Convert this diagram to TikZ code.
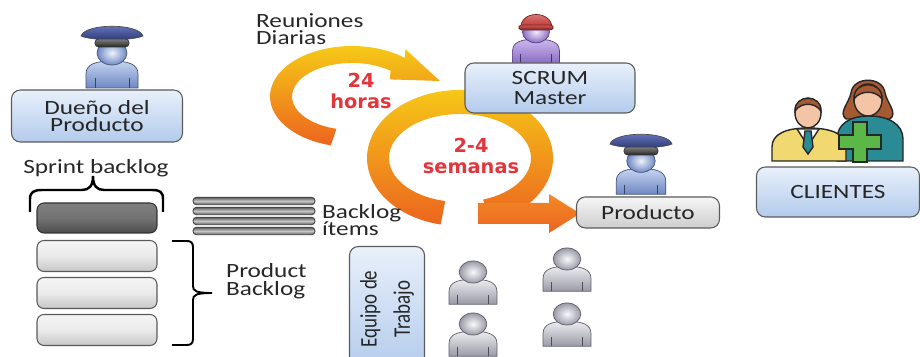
\documentclass[tikz,border=0pt]{standalone}
\usepackage{fontspec}
\setmainfont{Carlito}
\newfontfamily\ancha[FakeStretch=1.25]{Carlito}
\newfontfamily\estrecha[FakeStretch=0.8]{Carlito}
\newfontfamily\gruesa{DejaVu Sans}

\definecolor{cajaArriba}{HTML}{E8F0FB}
\definecolor{cajaAbajo}{HTML}{B3CBEC}
\definecolor{borde}{HTML}{5B5B5B}
\definecolor{grisArriba}{HTML}{F6F6F6}
\definecolor{grisAbajo}{HTML}{CDCDCD}
\definecolor{amarillo}{HTML}{F6CC17}
\definecolor{naranjaMedio}{HTML}{F28A26}
\definecolor{naranja}{HTML}{EC641E}
\definecolor{rojo}{HTML}{E2363C}
\definecolor{azulPersona}{HTML}{C6D4F0}
\definecolor{azulPersonaOsc}{HTML}{6F88C4}
\definecolor{lilaPersona}{HTML}{CDB8EE}
\definecolor{lilaPersonaOsc}{HTML}{8A6CC4}
\definecolor{grisPersona}{HTML}{EDEDF0}
\definecolor{grisPersonaOsc}{HTML}{9A9AA8}
\definecolor{gorraArriba}{HTML}{6E7EC6}
\definecolor{gorraAbajo}{HTML}{2B3775}
\definecolor{rojoGorro}{HTML}{C0302E}
\definecolor{piel}{HTML}{F3C4A6}
\definecolor{pelo}{HTML}{A65A32}
\definecolor{camisa}{HTML}{F1D870}
\definecolor{verdeAzul}{HTML}{2A8B95}
\definecolor{verdeMas}{HTML}{5BB848}

% muñeco: #1 centro de la cabeza, #2 escala, #3 color claro, #4 color oscuro
\newcommand\persona[4]{%
  \begin{scope}[shift={(#1)}, scale=#2]
    \shade[draw=#4!60!black, line width=0.4pt, top color=#3, bottom color=#4]
      (-26,35) -- (-26,21) .. controls (-26,11) and (-16,8) .. (0,8)
      .. controls (16,8) and (26,11) .. (26,21) -- (26,35) -- cycle;
    \draw[#4!50!black, line width=0.5pt] (-17,25) -- (-17,35) (17,25) -- (17,35);
    \shade[draw=#4!60!black, line width=0.4pt, inner color=#3!30!white, outer color=#4]
      (0,0) ellipse [x radius=15, y radius=12];
  \end{scope}}

% gorra de policia sobre la cabeza en #1
\newcommand\gorra[1]{%
  \begin{scope}[shift={(#1)}]
    \shade[draw=black!70, line width=0.4pt, top color=gorraArriba, bottom color=gorraAbajo]
      (-31,-17) .. controls (-27,-30) and (27,-30) .. (31,-17)
      .. controls (20,-12) and (-20,-12) .. cycle;
    \shade[draw=black!80, line width=0.4pt, rounded corners=2pt, top color=black!50, bottom color=black!85]
      (-17,-14) rectangle (17,-6);
  \end{scope}}

% gorro rojo del scrum master
\newcommand\gorro[1]{%
  \begin{scope}[shift={(#1)}]
    \shade[draw=rojoGorro!60!black, line width=0.4pt, top color=rojoGorro!55!white, bottom color=rojoGorro]
      (-15,-4) .. controls (-16,-22) and (16,-22) .. (16,-4) -- cycle;
    \shade[draw=rojoGorro!60!black, line width=0.4pt, rounded corners=1.5pt, top color=rojoGorro!80!white, bottom color=rojoGorro!70!black]
      (-17,-7) rectangle (17,-2);
  \end{scope}}

\tikzset{
  caja/.style={draw=borde, line width=0.6pt, rounded corners=5pt,
    top color=cajaArriba, bottom color=cajaAbajo, align=center,
    text=black!85, font=\ancha\fontsize{11.5}{10}\selectfont},
  cajagris/.style={caja, top color=grisArriba, bottom color=grisAbajo},
  tarea/.style={draw=black!65, line width=0.6pt, rounded corners=4pt,
    minimum width=2.4cm, minimum height=0.62cm,
    top color=black!4, bottom color=black!22, middle color=black!8},
  tareaoscura/.style={tarea, draw=black!80, minimum height=0.6cm,
    top color=black!50, bottom color=black!70, middle color=black!55},
  barra/.style={draw=black!75, line width=0.5pt, rounded corners=2pt, inner sep=0pt,
    minimum width=2.44cm, minimum height=0.15cm,
    top color=black!65, bottom color=black!65, middle color=black!22},
  etiqueta/.style={align=left, text=black!85, font=\ancha\fontsize{11.5}{10}\selectfont},
  etiquetaroja/.style={align=center, text=rojo, font=\gruesa\bfseries\fontsize{11}{12}\selectfont},
}

\begin{document}
\begin{tikzpicture}[x=0.02cm, y=-0.02cm]
  \useasboundingbox (0,0) rectangle (920,357);
  \clip (0,0) rectangle (920,357);

  % ciclo diario
  \shade[top color=amarillo, bottom color=naranja]
    (330.8,145.3) arc[start angle=105, end angle=310, x radius=82, y radius=50.5]
    -- (405.4,49.2) -- (440,81) -- (389.8,79.4) -- (390.6,70.8)
    arc[start angle=310, end angle=105, x radius=60, y radius=33.5] -- cycle;
  % ciclo del sprint
  \shade[top color=amarillo, bottom color=naranja]
    (440.7,224.5) arc[start angle=102, end angle=431, x radius=93, y radius=68]
    -- (483.1,199.6) arc[start angle=431, end angle=102, x radius=71, y radius=44] -- cycle;
  \shade[top color=naranjaMedio, bottom color=naranja]
    (478,203) -- (549,203) -- (549,194) -- (580,213.5) -- (549,233) -- (549,224) -- (478,224) -- cycle;

  \node[etiquetaroja] (horas) at (361,91) {24\\horas};
  \node[etiquetaroja] (semanas) at (471,156) {2-4\\semanas};

  % roles
  \persona{112,53}{1}{azulPersona}{azulPersonaOsc}
  \gorra{112,53}
  \persona{536,32}{0.9}{lilaPersona}{lilaPersonaOsc}
  \gorro{536,32}
  \persona{641,161}{0.95}{azulPersona}{azulPersonaOsc}
  \gorra{641,161}
  \foreach \p in {{473,272},{473,324},{567,259},{567,314}}
    \persona{\p}{0.92}{grisPersona}{grisPersonaOsc};

  \node[caja, minimum width=3.42cm, minimum height=1.04cm] (duenio) at (97,116) {Dueño del\\Producto};
  \node[caja, minimum width=3.4cm, minimum height=1cm,
    font=\ancha\fontsize{11.5}{11.3}\selectfont] (master) at (550,88) {SCRUM\\Master};
  \node[cajagris, minimum width=2.86cm, minimum height=0.62cm] (producto) at (648,212.5) {Producto};
  \node[caja, minimum width=3.26cm, minimum height=1cm] (clientes) at (838,192) {CLIENTES};
  \node[caja, rotate=90, minimum width=2.5cm, minimum height=1.5cm,
    font=\estrecha\fontsize{13.5}{19}\selectfont] (equipo) at (387,309) {Equipo de\\Trabajo};

  % clientes
  \begin{scope}[line width=0.8pt, draw=black!85]
    \filldraw[fill=pelo] (846,119) .. controls (838,113) and (849,103) .. (851,93)
      .. controls (853,76) and (883,76) .. (885,93) .. controls (887,103) and (898,113) .. (890,119) -- cycle;
    \filldraw[fill=verdeAzul] (837,161) -- (837,139) .. controls (837,124) and (850,116) .. (869,116)
      .. controls (888,116) and (903,124) .. (903,139) -- (903,161) -- cycle;
    \filldraw[fill=piel] (868,100) ellipse [x radius=14, y radius=16];
    \filldraw[fill=pelo] (854,99) .. controls (853,80) and (883,80) .. (882,99)
      .. controls (876,90) and (860,90) .. cycle;
    \filldraw[fill=camisa] (772,161) -- (772,147) .. controls (772,134) and (786,128) .. (808,128)
      .. controls (831,128) and (846,134) .. (846,147) -- (846,161) -- cycle;
    \filldraw[fill=white] (797,129) -- (808,146) -- (819,129) -- cycle;
    \filldraw[fill=verdeAzul] (805,131) -- (811,131) -- (813,147) -- (808,154) -- (803,147) -- cycle;
    \filldraw[fill=piel] (808,113) ellipse [x radius=13, y radius=15];
    \filldraw[fill=pelo] (795,111) .. controls (794,94) and (822,94) .. (821,111)
      .. controls (815,102) and (801,102) .. cycle;
    \filldraw[fill=verdeMas] (853,122) -- (867,122) -- (867,135) -- (881,135) -- (881,149)
      -- (867,149) -- (867,162) -- (853,162) -- (853,149) -- (839,149) -- (839,135) -- (853,135) -- cycle;
  \end{scope}

  % backlogs
  \node[tareaoscura] (sprint) at (97,218) {};
  \foreach \y [count=\i] in {256,293,330}
    \node[tarea] (pb\i) at (97,\y) {};
  \foreach \y [count=\i] in {201,211,221,231}
    \node[barra] (item\i) at (254,\y) {};

  % llaves
  \draw[line width=1.4pt] (30,212) -- (30,199) .. controls (30,192) and (34,190) .. (42,190)
    -- (82,190) .. controls (89,190) and (93,186) .. (93,176)
    .. controls (93,186) and (97,190) .. (104,190) -- (152,190)
    .. controls (160,190) and (163,192) .. (163,199) -- (163,212);
  \draw[line width=1.1pt] (172,241) -- (187,241) .. controls (191,241) and (193,243) .. (193,247)
    -- (193,286) .. controls (193,291) and (196,293) .. (212,293)
    .. controls (196,293) and (193,295) .. (193,300) -- (193,339)
    .. controls (193,343) and (191,345) .. (187,345) -- (172,345);

  \node[etiqueta, anchor=west] (reuniones) at (250,29) {Reuniones\\Diarias};
  \node[etiqueta] (sprintlbl) at (96,168) {Sprint backlog};
  \node[etiqueta, anchor=west] (itemslbl) at (316,220) {Backlog\\ítems};
  \node[etiqueta, anchor=west] (productlbl) at (220,281) {Product\\Backlog};
\end{tikzpicture}
\end{document}
